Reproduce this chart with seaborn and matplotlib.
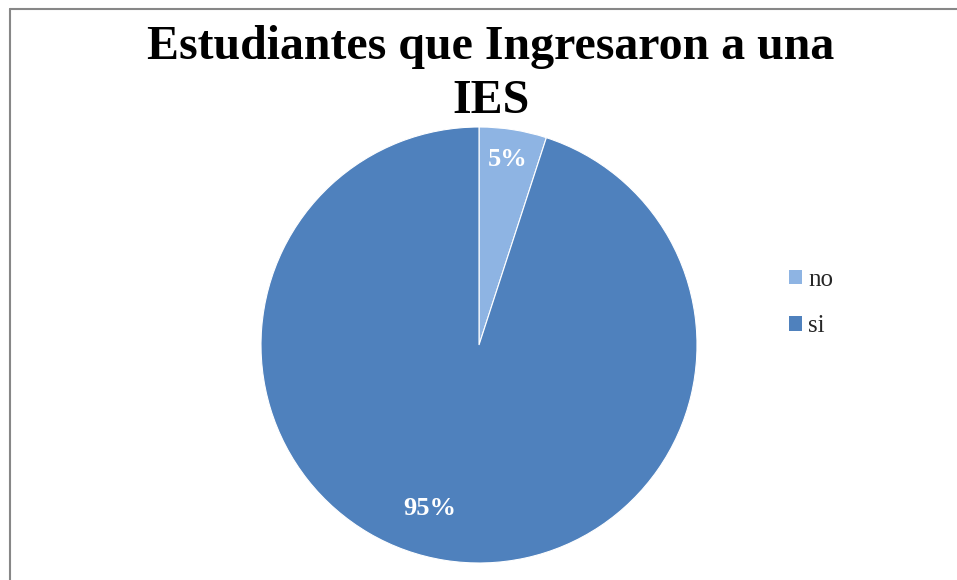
import matplotlib
matplotlib.use("Agg")
import matplotlib.pyplot as plt
import seaborn as sns
from matplotlib.lines import Line2D
from matplotlib.patches import Patch

sns.set_theme(style="white")
plt.rcParams['font.family'] = ['Liberation Serif', 'DejaVu Serif']

# data
categories = ["no", "si"]
values = [5, 95]
colors = ["#8EB4E3", "#4F81BD"]
title = "Estudiantes que Ingresaron a una\nIES"

fig = plt.figure(figsize=(9.57, 5.8), dpi=100)
ax = fig.add_axes([261 / 957, 17 / 580, 436 / 957, 436 / 580])

wedges, texts, autotexts = ax.pie(
    values,
    colors=colors,
    startangle=90,
    counterclock=False,
    radius=1,
    autopct="%1.0f%%",
    pctdistance=0.84,
    wedgeprops=dict(edgecolor="white", linewidth=0.8),
    textprops=dict(color="white", fontsize=19, fontweight="bold"),
)
# nudge labels to where they sit in the original
autotexts[1].set_position((-0.225, -0.75))
autotexts[0].set_position((0.13, 0.85))

ax.set_xlim(-1, 1)
ax.set_ylim(-1, 1)
ax.set_aspect("equal")
ax.axis("off")

fig.text(491 / 957, 1 - 74 / 580, title, ha="center", va="center",
         fontsize=34.5, fontweight="bold", linespacing=1.27, color="black")

handles = [Patch(facecolor=c, edgecolor="none") for c in colors]
fig.legend(handles, categories, loc="upper left",
           bbox_to_anchor=(789 / 957, 1 - 269 / 580), frameon=False,
           fontsize=18, handlelength=0.52, handleheight=0.52,
           handletextpad=0.25, labelspacing=0.97, borderpad=0,
           borderaxespad=0)

# border (only top and left edges visible)
fig.add_artist(Line2D([10 / 957, 10 / 957], [0, 1 - 9 / 580], color="#878787",
                      linewidth=1.5, transform=fig.transFigure))
fig.add_artist(Line2D([10 / 957, 1], [1 - 9 / 580, 1 - 9 / 580], color="#878787",
                      linewidth=1.5, transform=fig.transFigure))

plt.savefig("out.png", dpi=100)
